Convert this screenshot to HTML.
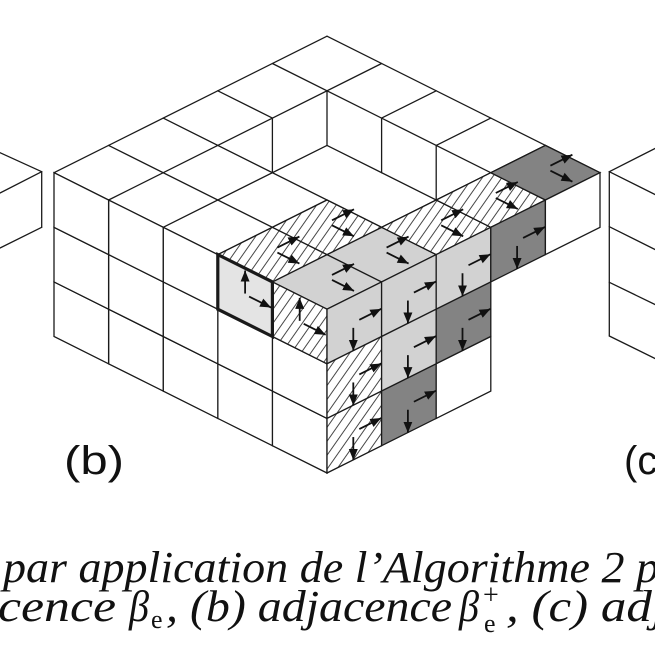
<!DOCTYPE html>
<html><head><meta charset="utf-8">
<style>
html,body{margin:0;padding:0;background:#fff;}
svg{display:block;}
</style></head>
<body>
<svg id="s" width="655" height="655" viewBox="0 0 655 655" xmlns="http://www.w3.org/2000/svg">
<defs>
<pattern id="h" width="8" height="8" patternUnits="userSpaceOnUse" patternTransform="rotate(35)">
<rect width="8" height="8" fill="#fff"/>
<line x1="1" y1="0" x2="1" y2="8" stroke="#333" stroke-width="0.9"/>
</pattern>
<marker id="ar" markerWidth="11" markerHeight="10" refX="11" refY="5" orient="auto" markerUnits="userSpaceOnUse">
<path d="M0,0.5 L11,5 L0,9.5 z" fill="#111"/>
</marker>
</defs>
<rect width="655" height="655" fill="#fff"/>
<g id="g"></g>
<text x="64" y="474" style="font-family:'Liberation Sans',sans-serif" font-size="40" fill="#111" textLength="60" lengthAdjust="spacingAndGlyphs">(b)</text>
<text x="624" y="474" style="font-family:'Liberation Sans',sans-serif" font-size="40" fill="#111">(c</text>
<g style="font-family:'Liberation Serif','DejaVu Serif',serif;font-style:italic" fill="#111" font-size="44">
<text x="3" y="582" textLength="656" lengthAdjust="spacingAndGlyphs">par application de l’Algorithme 2 p</text>
<text x="-2" y="621" textLength="118" lengthAdjust="spacingAndGlyphs">cence</text>
<text x="129" y="621" textLength="20" lengthAdjust="spacingAndGlyphs">β</text>
<text x="151" y="628" style="font-style:normal" font-size="26">e</text>
<text x="166" y="621" textLength="286" lengthAdjust="spacingAndGlyphs">, (b) adjacence</text>
<text x="459" y="621" textLength="20" lengthAdjust="spacingAndGlyphs">β</text>
<text x="483" y="604" style="font-style:normal" font-size="28">+</text>
<text x="484" y="632" style="font-style:normal" font-size="26">e</text>
<text x="506" y="621" textLength="160" lengthAdjust="spacingAndGlyphs">, (c) adj</text>
</g>
</svg>
<script>
(function(){
var g=document.getElementById('g');
var NS='http://www.w3.org/2000/svg';
function P(a,b,z){return [327+54.6*(a-b),473-27.3*(a+b)-54.6*z];}
function T(a,b){return P(a,b,3);}
function el(n,at){var e=document.createElementNS(NS,n);for(var k in at)e.setAttribute(k,at[k]);g.appendChild(e);return e;}
function line(p,q,w){el('line',{x1:p[0],y1:p[1],x2:q[0],y2:q[1],stroke:'#1a1a1a','stroke-width':w||1.3,'stroke-linecap':'round'});}
var FILL={W:'#fff',L:'#d2d2d2',D:'#838383',H:'url(#h)',X:'#e4e4e4'};
function poly(pts,f,w){el('polygon',{points:pts.map(function(p){return p[0].toFixed(2)+','+p[1].toFixed(2);}).join(' '),fill:FILL[f],stroke:'#1a1a1a','stroke-width':w||1.3,'stroke-linejoin':'miter'});}
function arrow(c,d1,d2){el('line',{x1:c[0]+d1[0],y1:c[1]+d1[1],x2:c[0]+d2[0],y2:c[1]+d2[1],stroke:'#111','stroke-width':1.8,'marker-end':'url(#ar)'});}
function V(p){return [p,[p[0],p[1]+54.6]];}

var L=[
[T(0,5),T(5,5)],[T(5,5),T(5,0)],
[T(0,4),T(5,4)],[T(0,3),T(3,3)],[T(4,3),T(5,3)],[T(0,2),T(2,2)],[T(4,2),T(5,2)],[T(0,1),T(5,1)],[T(0,0),T(5,0)],
[T(0,0),T(0,5)],[T(1,0),T(1,5)],[T(2,0),T(2,5)],[T(3,0),T(3,3)],[T(3,4),T(3,5)],[T(4,0),T(4,5)],
V(T(3,4)),V(T(4,4)),V(T(4,3)),V(T(4,2))
];
L.forEach(function(s){line(s[0],s[1]);});

var TOP=[[0,0,'L'],[1,0,'L'],[0,1,'H'],[1,1,'H'],[2,0,'H'],[3,0,'H'],[4,0,'D']];
TOP.forEach(function(c){var i=c[0],j=c[1];poly([T(i,j),T(i+1,j),T(i+1,j+1),T(i,j+1)],c[2]);});

var LF={'1,2':'X','0,2':'H'};
for(var j=0;j<5;j++)for(var k=0;k<3;k++){
 var f=LF[j+','+k]||'W';
 poly([P(0,j,k),P(0,j+1,k),P(0,j+1,k+1),P(0,j,k+1)],f);
}
var RF={'0,2':'L','0,1':'H','0,0':'H','1,2':'L','1,1':'L','1,0':'D','2,2':'L','2,1':'D','2,0':'W','3,2':'D','4,2':'W'};
for(var key in RF){var ik=key.split(',');var i=+ik[0],k=+ik[1];
 poly([P(i,0,k),P(i+1,0,k),P(i+1,0,k+1),P(i,0,k+1)],RF[key]);}
poly([P(0,1,2),P(0,2,2),P(0,2,3),P(0,1,3)],'X',3.2);

TOP.forEach(function(c){var C=P(c[0]+0.5,c[1]+0.5,3);arrow(C,[5,-7],[27,-18]);arrow(C,[5,-2],[27,9]);});
[[1,2],[0,2]].forEach(function(c){var C=P(0,c[0]+0.5,c[1]+0.5);arrow(C,[0,-2],[0,-25]);arrow(C,[4,1],[26,12]);});
for(var key in RF){if(RF[key]==='W')continue;var ik=key.split(',');var C=P(+ik[0]+0.5,0,+ik[1]+0.5);
 arrow(C,[5,-3],[27,-14]);arrow(C,[-1,5],[-1,28]);}

line([0,152.7],[41.7,171.7]);line([41.7,171.7],[0,193]);line([41.7,171.7],[41.7,227.3]);line([41.7,227.3],[0,248]);
line([609.3,171.7],[609.3,336]);line([609.3,171.7],[656,148]);line([609.3,171.7],[656,195]);
line([609.3,226.7],[656,250]);line([609.3,282.3],[656,305]);line([609.3,336],[656,359]);
})();
</script>
</body></html>
